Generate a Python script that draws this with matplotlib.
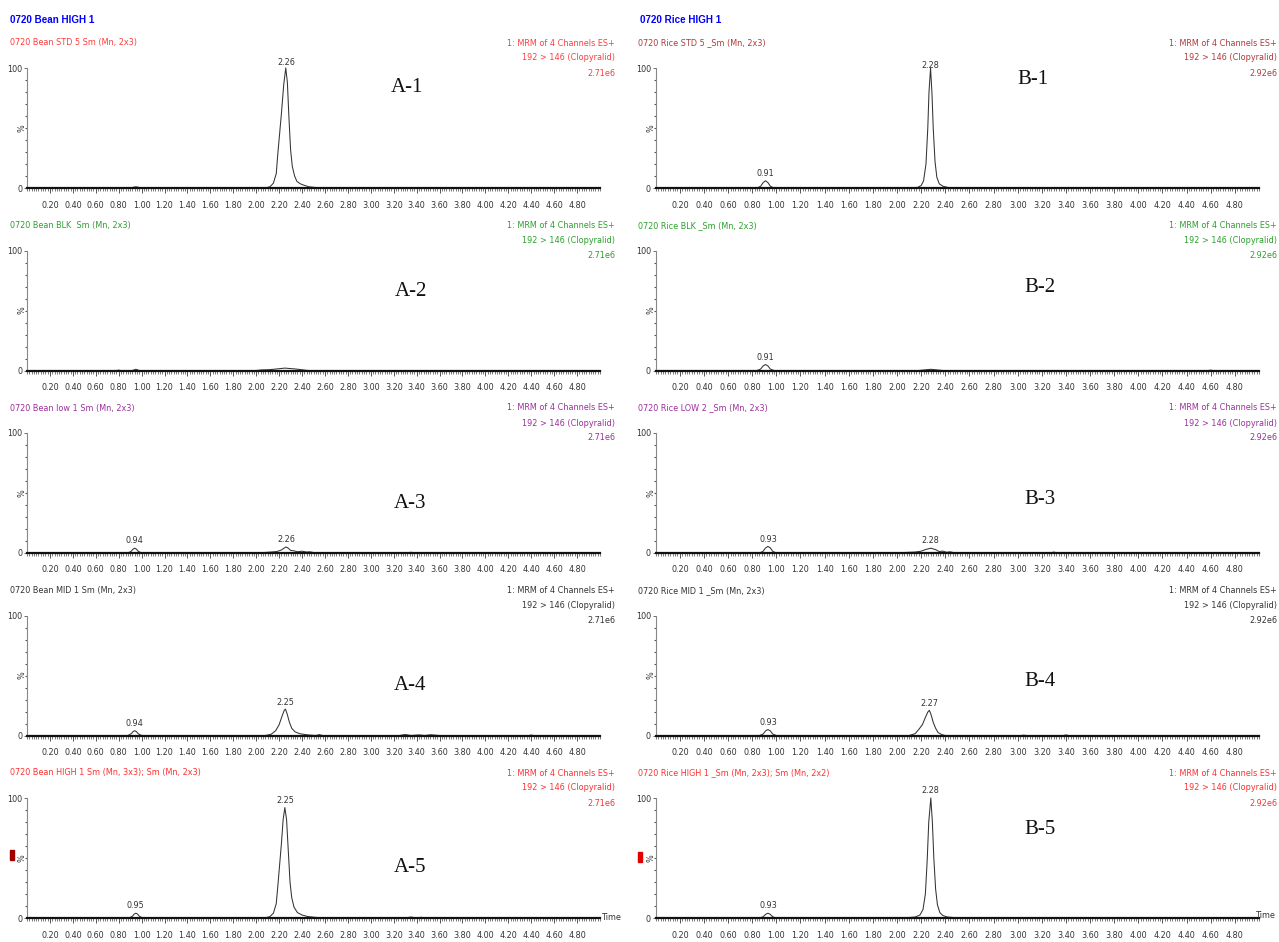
import numpy as np
import matplotlib
matplotlib.use("Agg")
import matplotlib.pyplot as plt
from matplotlib import font_manager
from matplotlib.font_manager import FontProperties
from matplotlib.ticker import FixedLocator, MultipleLocator
from matplotlib.patches import Rectangle

# chromatogram traces (time in min, relative intensity in %)
a1_time = [0.00, 0.78, 0.80, 0.82, 0.91, 0.93, 0.95, 0.97, 0.99, 2.00, 2.09, 2.12, 2.15, 2.175, 2.19, 2.205, 2.22, 2.24, 2.258, 2.272, 2.285, 2.30, 2.315, 2.335, 2.355, 2.385, 2.42, 2.46, 2.52, 2.58, 5.00]
a1_int = [0, 0, 0.4, 0, 0, 0.7, 1.0, 0.7, 0, 0, 0.3, 1, 4, 12, 30, 46, 62, 86, 100, 88, 60, 32, 18, 10, 5.5, 3.5, 2.2, 1, 0.4, 0, 0]

a2_time = [0.00, 0.78, 0.80, 0.82, 0.92, 0.95, 0.98, 2.00, 2.05, 2.10, 2.15, 2.20, 2.25, 2.30, 2.35, 2.40, 2.45, 5.00]
a2_int = [0, 0, 0.3, 0, 0, 1.0, 0, 0, 0.5, 0.6, 1.0, 1.5, 2.0, 1.6, 1.2, 0.6, 0, 0]

a3_time = [0.00, 0.88, 0.91, 0.925, 0.94, 0.955, 0.97, 1.00, 2.00, 2.10, 2.18, 2.22, 2.245, 2.26, 2.28, 2.30, 2.33, 2.36, 2.40, 2.44, 2.47, 2.52, 3.30, 3.35, 3.40, 5.00]
a3_int = [0, 0, 1.5, 3.2, 4.0, 3.2, 1.5, 0, 0, 0.6, 1.2, 2.5, 4.2, 5.0, 4.0, 2.2, 1.8, 1.0, 1.5, 0.8, 1.0, 0, 0, 0.6, 0, 0]

a4_time = [0.00, 0.88, 0.91, 0.925, 0.94, 0.955, 0.97, 1.00, 2.08, 2.13, 2.17, 2.20, 2.225, 2.245, 2.255, 2.27, 2.29, 2.31, 2.34, 2.38, 2.45, 2.52, 2.55, 2.58, 3.25, 3.30, 3.35, 3.42, 3.47, 3.52, 3.56, 3.60, 4.38, 4.40, 4.42, 5.00]
a4_int = [0, 0, 1.5, 3.2, 4.0, 3.2, 1.5, 0, 0, 1, 4, 9, 16, 21, 22, 18, 11, 6, 3, 1.5, 0.5, 0, 0.7, 0, 0, 0.8, 0, 0.5, 0, 0.6, 0.3, 0, 0, 0.4, 0, 0]

a5_time = [0.00, 0.89, 0.92, 0.935, 0.95, 0.965, 0.98, 1.01, 2.00, 2.09, 2.12, 2.15, 2.175, 2.19, 2.205, 2.22, 2.235, 2.25, 2.265, 2.28, 2.295, 2.31, 2.33, 2.36, 2.40, 2.45, 2.52, 2.60, 3.30, 3.35, 3.40, 3.44, 3.47, 5.00]
a5_int = [0, 0, 1.5, 3.2, 4.0, 3.2, 1.5, 0, 0, 0.4, 1.2, 4, 12, 28, 45, 62, 82, 92, 82, 56, 30, 17, 9, 4.5, 2.5, 1.2, 0.5, 0, 0, 0.8, 0, 0.6, 0, 0]

b1_time = [0.00, 0.84, 0.87, 0.89, 0.91, 0.93, 0.95, 0.98, 2.10, 2.17, 2.20, 2.22, 2.24, 2.255, 2.265, 2.278, 2.29, 2.30, 2.315, 2.33, 2.35, 2.38, 2.42, 2.48, 2.58, 2.60, 2.62, 3.28, 3.30, 3.32, 5.00]
b1_int = [0, 0, 1.5, 4.5, 6.0, 4.5, 1.5, 0, 0, 0.5, 2, 6, 20, 50, 80, 100, 78, 50, 22, 9, 3.5, 1.5, 0.5, 0, 0, 0.4, 0, 0, 0.5, 0, 0]

b2_time = [0.00, 0.84, 0.87, 0.89, 0.91, 0.93, 0.95, 0.98, 2.18, 2.24, 2.28, 2.32, 2.38, 4.58, 4.60, 4.62, 5.00]
b2_int = [0, 0, 1.2, 3.8, 5.0, 3.8, 1.2, 0, 0, 0.6, 1.0, 0.6, 0, 0, 0.3, 0, 0]

b3_time = [0.00, 0.86, 0.89, 0.91, 0.93, 0.95, 0.97, 1.00, 2.00, 2.08, 2.15, 2.20, 2.24, 2.28, 2.32, 2.35, 2.38, 2.41, 2.44, 2.47, 2.50, 3.27, 3.30, 3.33, 3.83, 3.85, 3.87, 5.00]
b3_int = [0, 0, 1.4, 4.2, 5.5, 4.2, 1.4, 0, 0, 0.5, 0.8, 1.5, 3.0, 4.0, 2.8, 1.2, 1.6, 0.6, 1.0, 0.3, 0, 0, 0.8, 0, 0, 0.4, 0, 0]

b4_time = [0.00, 0.86, 0.89, 0.91, 0.93, 0.95, 0.97, 1.00, 2.10, 2.15, 2.18, 2.21, 2.235, 2.255, 2.268, 2.28, 2.30, 2.32, 2.34, 2.37, 2.40, 3.03, 3.05, 3.07, 3.38, 3.40, 3.42, 5.00]
b4_int = [0, 0, 1.2, 3.8, 5.0, 3.8, 1.2, 0, 0, 1.5, 5, 9, 15, 19.5, 21, 18, 11, 6, 2.5, 0.8, 0, 0, 0.3, 0, 0, 0.5, 0, 0]

b5_time = [0.00, 0.86, 0.89, 0.91, 0.93, 0.95, 0.97, 1.00, 2.00, 2.08, 2.15, 2.19, 2.215, 2.235, 2.25, 2.263, 2.28, 2.293, 2.305, 2.32, 2.335, 2.355, 2.38, 2.42, 2.48, 2.55, 5.00]
b5_int = [0, 0, 1.0, 3.0, 4.0, 3.0, 1.0, 0, 0, 0.3, 0.8, 2.5, 7, 20, 48, 80, 100, 80, 50, 24, 11, 4.5, 2, 0.8, 0.3, 0, 0]

# retention-time labels per panel
a_peaks = [["2.26"], [], ["0.94", "2.26"], ["0.94", "2.25"], ["0.95", "2.25"]]
b_peaks = [["0.91", "2.28"], ["0.91"], ["0.93", "2.28"], ["0.93", "2.27"], ["0.93", "2.28"]]

a_titles = ["0720 Bean STD 5 Sm (Mn, 2x3)", "0720 Bean BLK  Sm (Mn, 2x3)", "0720 Bean low 1 Sm (Mn, 2x3)",
            "0720 Bean MID 1 Sm (Mn, 2x3)", "0720 Bean HIGH 1 Sm (Mn, 3x3); Sm (Mn, 2x3)"]
b_titles = ["0720 Rice STD 5 _Sm (Mn, 2x3)", "0720 Rice BLK _Sm (Mn, 2x3)", "0720 Rice LOW 2 _Sm (Mn, 2x3)",
            "0720 Rice MID 1 _Sm (Mn, 2x3)", "0720 Rice HIGH 1 _Sm (Mn, 2x3); Sm (Mn, 2x2)"]
a_scale = "2.71e6"
b_scale = "2.92e6"
a_labels = ["A-1", "A-2", "A-3", "A-4", "A-5"]
b_labels = ["B-1", "B-2", "B-3", "B-4", "B-5"]
x_ticks = [0.20, 0.40, 0.60, 0.80, 1.00, 1.20, 1.40, 1.60, 1.80, 2.00, 2.20, 2.40, 2.60, 2.80,
           3.00, 3.20, 3.40, 3.60, 3.80, 4.00, 4.20, 4.40, 4.60, 4.80]

a_colors = ["#ff3c3c", "#2ca02c", "#9b309b", "#333333", "#ff3030"]
b_colors = ["#b03a3a", "#2ca02c", "#9b309b", "#333333", "#ff3030"]

# look for a condensed sans face; fall back to Liberation Sans at a smaller size
narrow_file = None
for f in font_manager.fontManager.ttflist:
    n = f.fname.lower()
    if ("narrow" in n or "condensed" in n) and not any(k in n for k in ["bold", "oblique", "italic", "mono", "serif"]):
        narrow_file = f.fname
        break
if narrow_file:
    base_fp = FontProperties(fname=narrow_file)
    small = 6.5
else:
    base_fp = FontProperties(family="Liberation Sans")
    small = 5.4


def nfont(size=None):
    p = base_fp.copy()
    p.set_size(size or small)
    return p


W, H = 1279, 942
fig = plt.figure(figsize=(W / 100, H / 100), dpi=100)


def fx(px):
    return px / W


def fy(py):
    return 1 - py / H


col_left = [27, 655.7]
col_right = [600, 1259]
row_zero = [188, 370.5, 553, 735.5, 918]
ax_h = 120

traces = [[(a1_time, a1_int), (a2_time, a2_int), (a3_time, a3_int), (a4_time, a4_int), (a5_time, a5_int)],
          [(b1_time, b1_int), (b2_time, b2_int), (b3_time, b3_int), (b4_time, b4_int), (b5_time, b5_int)]]
peaks = [a_peaks, b_peaks]
titles = [a_titles, b_titles]
colors = [a_colors, b_colors]
scales = [a_scale, b_scale]
big = [a_labels, b_labels]
big_pos = [[(407, 88), (411, 292), (410, 504), (410, 686), (410, 868)],
           [(1033, 80), (1040, 288), (1040, 499), (1040, 682), (1040, 830)]]
info_right = [615, 1277]

fig.text(fx(10), fy(20), "0720 Bean HIGH 1", color="#0000ff", fontsize=small + 0.6,
         fontweight="bold", va="center", family="Liberation Sans")
fig.text(fx(640), fy(20), "0720 Rice HIGH 1", color="#0000ff", fontsize=small + 0.6,
         fontweight="bold", va="center", family="Liberation Sans")

for c in range(2):
    for r in range(5):
        y0 = row_zero[r]
        ax = fig.add_axes([fx(col_left[c]), fy(y0), (col_right[c] - col_left[c]) / W, ax_h / H])
        t, v = traces[c][r]
        ax.plot(t, v, color="#333333", lw=0.75, clip_on=False)
        ax.set_xlim(0, 5.0)
        ax.set_ylim(0, 100)
        for s in ["top", "right"]:
            ax.spines[s].set_visible(False)
        ax.spines["bottom"].set_linewidth(1.6)
        ax.spines["bottom"].set_color("#111111")
        ax.spines["left"].set_linewidth(0.8)
        ax.spines["left"].set_color("#888888")
        ax.xaxis.set_major_locator(FixedLocator(x_ticks))
        ax.set_xticklabels(["%.2f" % v_ for v_ in x_ticks])
        ax.xaxis.set_minor_locator(MultipleLocator(0.02))
        ax.tick_params(axis="x", which="major", length=3.5, width=0.7, color="#555555",
                       pad=5.5, labelcolor="#333333")
        ax.tick_params(axis="x", which="minor", length=2.2, width=0.6, color="#666666")
        ax.set_yticks([0, 100])
        ax.set_yticklabels(["0", "100"])
        ax.yaxis.set_minor_locator(MultipleLocator(10))
        ax.tick_params(axis="y", which="major", length=2.5, width=0.6, color="#555555",
                       pad=1, labelcolor="#333333")
        ax.tick_params(axis="y", which="minor", length=1.2, width=0.8, color="#555555")
        for lab in ax.get_xticklabels() + ax.get_yticklabels():
            lab.set_fontproperties(nfont())
        ax.text(-0.001, 0.5, "%", transform=ax.transAxes, rotation=90, ha="right", va="center",
                fontproperties=nfont(), color="#333333")
        for lab in peaks[c][r]:
            pt = float(lab)
            ph = np.interp(pt, t, v)
            ax.annotate(lab, (pt, ph), xytext=(0, 2), textcoords="offset points",
                        ha="center", va="bottom", fontproperties=nfont(), color="#333333",
                        annotation_clip=False)

        col = colors[c][r]
        ty = 43 + r * 182.5
        fig.text(fx(col_left[c] - 17 + (0 if c == 0 else -1)), fy(ty), titles[c][r], color=col,
                 fontproperties=nfont(), va="center")
        fig.text(fx(info_right[c]), fy(ty), "1: MRM of 4 Channels ES+", color=col,
                 fontproperties=nfont(), va="center", ha="right")
        fig.text(fx(info_right[c]), fy(ty + 15), "192 > 146 (Clopyralid)", color=col,
                 fontproperties=nfont(), va="center", ha="right")
        fig.text(fx(info_right[c]), fy(ty + 30), scales[c], color=col,
                 fontproperties=nfont(), va="center", ha="right")

        bx, by = big_pos[c][r]
        fig.text(fx(bx), fy(by), big[c][r], fontsize=15, family="Liberation Serif",
                 ha="center", va="center", color="#111111")

fig.text(fx(602), fy(917), "Time", fontproperties=nfont(), va="center", color="#333333")
fig.text(fx(1276), fy(915), "Time", fontproperties=nfont(), va="center", ha="right", color="#333333")
fig.patches.append(Rectangle((fx(10), fy(860)), 4 / W, 10 / H, transform=fig.transFigure,
                             color="#a00000"))
fig.patches.append(Rectangle((fx(638), fy(862)), 4 / W, 10 / H, transform=fig.transFigure,
                             color="#e00000"))

fig.savefig("out.png", dpi=100)
